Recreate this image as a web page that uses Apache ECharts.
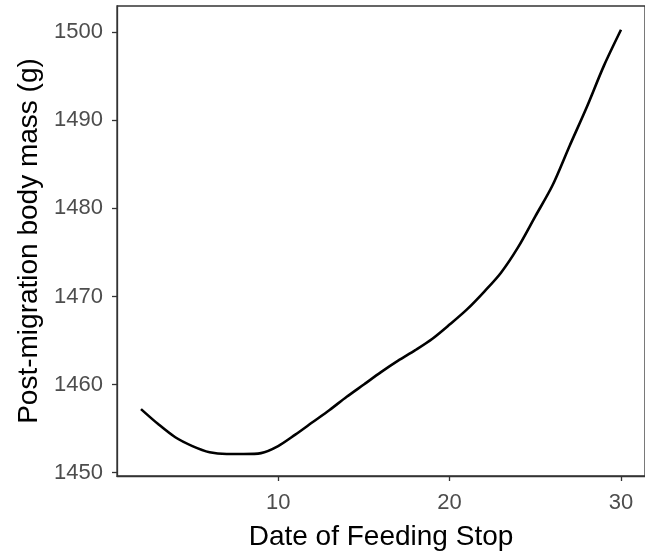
<!DOCTYPE html>
<html>
<head>
<meta charset="utf-8">
<script src="https://cdn.jsdelivr.net/npm/echarts@6/dist/echarts.min.js"></script>
<style>
  html, body { margin: 0; padding: 0; background: #fff; }
  #chart { width: 645px; height: 556px; }
</style>
</head>
<body>
<div id="chart"></div>
<script>
// Fitted post-migration body mass by date of feeding stop
const feedingStopDays = [2, 3, 4, 5, 6, 7, 8, 9, 10, 11, 12, 13, 14, 15, 16,
  17, 18, 19, 20, 21, 22, 23, 24, 25, 26, 27, 28, 29, 30];
const bodyMass = [1457.2, 1455.5, 1454.0, 1453.0, 1452.3, 1452.1, 1452.1, 1452.2,
  1453.0, 1454.3, 1455.7, 1457.1, 1458.6, 1460.0, 1461.4, 1462.7, 1463.9, 1465.2,
  1466.8, 1468.5, 1470.5, 1472.7, 1475.6, 1479.1, 1482.6, 1487.1, 1491.5, 1496.2, 1500.3];
const xTicks = [10, 20, 30];
const yTicks = [1450, 1460, 1470, 1480, 1490, 1500];

const xTitle = 'Date of Feeding Stop';
const yTitle = 'Post-migration body mass (g)';

const axisColor = '#333333';
const tickLabelColor = '#4D4D4D';
const fontFamily = '"Liberation Sans", Arial, sans-serif';

const chart = echarts.init(document.getElementById('chart'));
chart.setOption({
  animation: false,
  backgroundColor: '#ffffff',
  grid: { left: 117, right: -9, top: 6, bottom: 79, show: true,
    borderColor: axisColor, borderWidth: 1.3, backgroundColor: 'transparent' },
  xAxis: {
    type: 'value', min: 0.6, max: 31.4,
    name: xTitle, nameLocation: 'middle', nameGap: 47,
    nameTextStyle: { color: '#000', fontSize: 28, fontFamily: fontFamily },
    axisLine: { show: true, lineStyle: { color: axisColor, width: 1.3 } },
    axisTick: { show: true, length: 5, lineStyle: { color: axisColor, width: 1.3 },
      customValues: xTicks },
    axisLabel: { color: tickLabelColor, fontSize: 22, fontFamily: fontFamily, margin: 16,
      customValues: xTicks, showMinLabel: true, showMaxLabel: true,
      formatter: v => String(v) },
    splitLine: { show: false }
  },
  yAxis: {
    type: 'value', min: 1449.6, max: 1503,
    name: yTitle, nameLocation: 'middle', nameGap: 74,
    nameTextStyle: { color: '#000', fontSize: 28, fontFamily: fontFamily },
    axisLine: { show: true, lineStyle: { color: axisColor, width: 1.3 } },
    axisTick: { show: true, length: 5, lineStyle: { color: axisColor, width: 1.3 },
      customValues: yTicks },
    axisLabel: { color: tickLabelColor, fontSize: 22, fontFamily: fontFamily, margin: 14,
      customValues: yTicks, formatter: v => String(v) },
    splitLine: { show: false }
  },
  series: [{
    type: 'line',
    data: feedingStopDays.map((d, i) => [d, bodyMass[i]]),
    showSymbol: false,
    smooth: 0.3,
    lineStyle: { color: '#000000', width: 2.6 }
  }]
});
</script>
</body>
</html>
